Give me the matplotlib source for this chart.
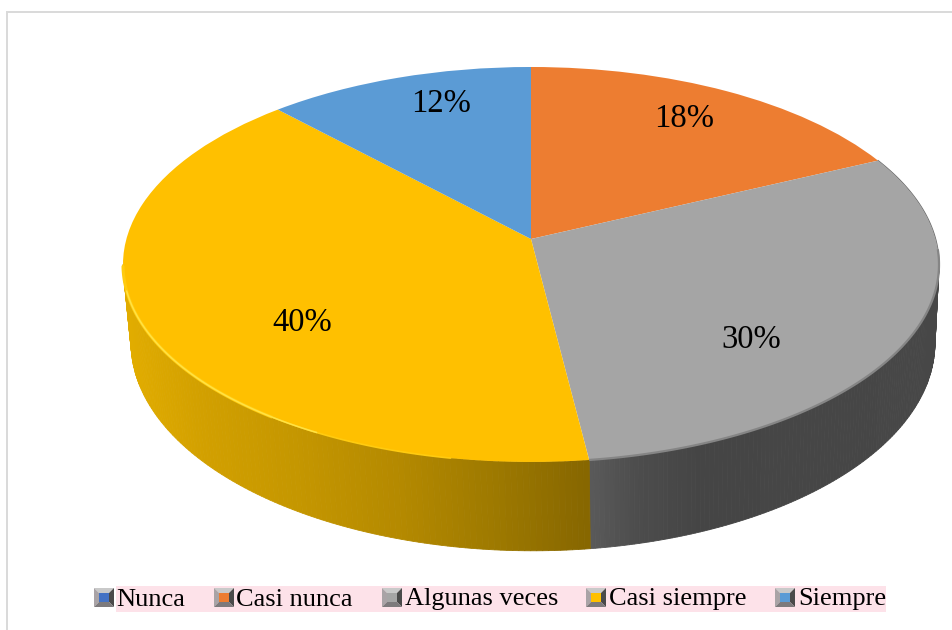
import matplotlib
matplotlib.use('Agg')
import matplotlib.pyplot as plt
from matplotlib.patches import Rectangle, Polygon
from matplotlib.path import Path
from matplotlib.transforms import Transform
import numpy as np

categories = ['Nunca', 'Casi nunca', 'Algunas veces', 'Casi siempre', 'Siempre']
values = [0, 18, 30, 40, 12]
colors = ['#4472C4', '#ED7D31', '#A5A5A5', '#FFC000', '#5B9BD5']

# screen position of the percent labels
label_xy = {'Casi nunca': (684, 119), 'Algunas veces': (751, 340),
            'Casi siempre': (302, 323), 'Siempre': (441, 104)}
legend_text_x = [116, 236, 405, 609, 798]
legend_box_x = [94, 214, 382, 586, 775]

# side shading, left to right on screen
side_x = {'Casi siempre': [123, 200, 300, 400, 500, 589],
          'Algunas veces': [589, 640, 700, 940]}
side_rgb = {'Casi siempre': ['#E2AD00', '#D2A000', '#C49600', '#B48900', '#9C7800', '#866600'],
            'Algunas veces': ['#5A5A5A', '#4C4C4C', '#454545', '#474747']}

# perspective of the pie: top and bottom face
TILT = 0.129
TOP = dict(cx=531, cy=239, a=194.2, d=404.6)
BOTTOM = dict(cx=533, cy=316, a=204.5, d=398.6)
# wall shows between these pie angles
WALL_FROM, WALL_TO = -172.6, -7.4


def project(x, y, face):
    w = 1 + TILT * y
    return face['cx'] + face['d'] * x / w, face['cy'] - face['a'] * y / w


class Perspective(Transform):
    input_dims = 2
    output_dims = 2
    is_separable = False
    has_inverse = False

    def __init__(self, face):
        super().__init__()
        self.face = face

    def transform_non_affine(self, values):
        xs, ys = project(values[:, 0], values[:, 1], self.face)
        return np.column_stack([xs, ys])

    def transform_path_non_affine(self, path):
        return Path(self.transform_non_affine(path.vertices), path.codes)


def rim(theta, face):
    t = np.radians(theta)
    return project(np.cos(t), np.sin(t), face)


def hex2rgb(h):
    return np.array(matplotlib.colors.to_rgb(h))


fig = plt.figure(figsize=(9.53, 6.30), dpi=100)
ax = fig.add_axes([0, 0, 1, 1])

wedges, _ = ax.pie(values, colors=colors, startangle=90, counterclock=False,
                   wedgeprops=dict(linewidth=0))
ax.set_aspect('auto')
ax.set_xlim(0, 953)
ax.set_ylim(630, 0)
ax.axis('off')

top_tr = Perspective(TOP) + ax.transData
for w in wedges:
    w.set_transform(top_tr)
    w.set_zorder(5)

# side wall of the pie, visible only on the front half
for w, cat in zip(wedges, categories):
    if cat not in side_x:
        continue
    ts = np.linspace(max(w.theta1, WALL_FROM), min(w.theta2, WALL_TO), 121)
    stops = np.array([hex2rgb(c) for c in side_rgb[cat]])
    for t0, t1 in zip(ts[:-1], ts[1:]):
        x0, y0 = rim(t0, TOP)
        x1, y1 = rim(t1, TOP)
        x2, y2 = rim(t1, BOTTOM)
        x3, y3 = rim(t0, BOTTOM)
        mid = (x0 + x1) / 2
        c = [np.interp(mid, side_x[cat], stops[:, i]) for i in range(3)]
        ax.fill([x0, x1, x2, x3], [y0, y1, y2, y3], color=c, lw=0.6, zorder=2)

# bevel on the rim, thinner towards the front
rx, ry = rim(np.linspace(-172, -125, 80), TOP)
ax.plot(rx, ry, color='#FFCB10', lw=2.2, zorder=6, solid_capstyle='round')
rx, ry = rim(np.linspace(-130, -100, 50), TOP)
ax.plot(rx, ry, color='#FFCB10', lw=1.2, zorder=6, solid_capstyle='round')
rx, ry = rim(np.linspace(-165, -118, 80), TOP)
ax.plot(rx, ry, color='#FFE244', lw=1.1, zorder=7, solid_capstyle='round')
rx, ry = rim(np.linspace(-82.8, -3, 120), TOP)
ax.plot(rx, ry, color='#858585', lw=1.6, zorder=6, solid_capstyle='butt')
rx, ry = rim(np.linspace(-8, 25.2, 60), TOP)
ax.plot(rx, ry, color='#6A6A6A', lw=0.9, zorder=4)

# percent labels
for cat, v in zip(categories, values):
    if v > 0:
        x, y = label_xy[cat]
        ax.text(x, y, f'{v}%', family='Liberation Serif', fontsize=23.5,
                ha='center', va='center', color='black', zorder=8)

# frame, only the top and the left edge show
ax.plot([7.5, 7.5, 953], [630, 11.5, 11.5], color='#D9D9D9', lw=1.4, zorder=1,
        solid_joinstyle='miter')

# legend
ax.add_patch(Rectangle((116, 586), 770, 26, color='#FDE2E9', lw=0, zorder=1))
for name, col, tx, bx in zip(categories, colors, legend_text_x, legend_box_x):
    x0, x1, y0, y1 = bx, bx + 20, 588, 607
    ix0, ix1, iy0, iy1 = bx + 5, bx + 15, 593, 602
    ax.add_patch(Polygon([(x0, y0), (x1, y0), (ix1, iy0), (ix0, iy0)], color='#C9C9C9', lw=0, zorder=3))
    ax.add_patch(Polygon([(x0, y0), (ix0, iy0), (ix0, iy1), (x0, y1)], color='#A9A3A6', lw=0, zorder=3))
    ax.add_patch(Polygon([(x1, y0), (ix1, iy0), (ix1, iy1), (x1, y1)], color='#4A4A4A', lw=0, zorder=3))
    ax.add_patch(Polygon([(x0, y1), (ix0, iy1), (ix1, iy1), (x1, y1)], color='#7D7A7C', lw=0, zorder=3))
    ax.add_patch(Rectangle((ix0, iy0), 10, 9, color=col, lw=0, zorder=4))
    ax.text(tx, 599.5, name, family='Liberation Serif', fontsize=19,
            ha='left', va='center', color='black', zorder=5)

fig.savefig('out.png', dpi=100)
